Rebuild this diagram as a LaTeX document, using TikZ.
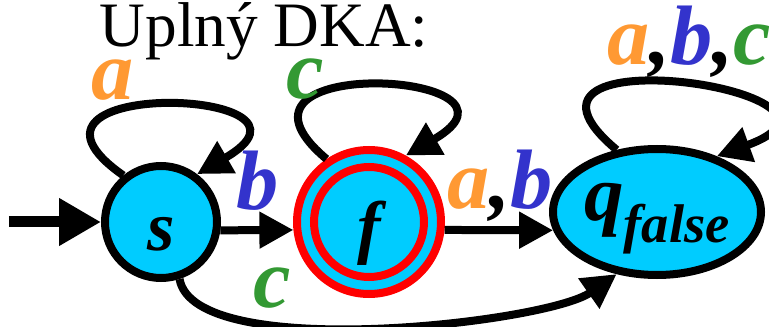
\documentclass[tikz,border=0pt]{standalone}
\usepackage{fontspec}
\setmainfont{Liberation Serif}
\usetikzlibrary{arrows.meta, positioning, shapes.geometric}
\definecolor{statefill}{HTML}{00CCFF}
\definecolor{acceptred}{HTML}{FF0000}
\definecolor{syma}{HTML}{FF9933}
\definecolor{symb}{HTML}{3333CC}
\definecolor{symc}{HTML}{339933}

\begin{document}
\begin{tikzpicture}[
    every node/.style={inner sep=0pt, outer sep=0pt},
    state/.style={circle, draw=black, line width=0.16cm, fill=statefill, minimum size=2.24cm, outer sep=0.08cm,
        font=\fontsize{40}{40}\selectfont\bfseries\itshape, text height=1.12cm, text depth=0pt},
    acceptouter/.style={circle, draw=acceptred, line width=0.16cm, fill=statefill, minimum size=2.88cm, outer sep=0.08cm},
    acceptinner/.style={circle, draw=acceptred, line width=0.16cm, minimum size=2.2cm,
        font=\fontsize{40}{40}\selectfont\bfseries\itshape, text height=1.12cm, text depth=0pt},
    trapstate/.style={ellipse, draw=black, line width=0.16cm, fill=statefill, minimum width=4.16cm, minimum height=2.52cm,
        outer sep=0.08cm, font=\fontsize{45}{45}\selectfont\bfseries\itshape, text height=0.32cm, text depth=0pt},
    trans/.style={line width=0.16cm, -{Triangle[length=0.68cm,width=0.7cm]}},
    symlabel/.style={font=\fontsize{48}{48}\selectfont\bfseries\itshape, anchor=base},
    heading/.style={font=\fontsize{36}{36}\selectfont, anchor=base},
]
\useasboundingbox (0,0) rectangle (15.38,6.52);
\node[heading] (title) at (5.28,5.58) {Uplný DKA:};
% states
\node[state] (s) at (3.22,2.08) {s};
\node[acceptouter] (f) at (7.38,2.08) {};
\node[acceptinner] (fin) at (f) {f};
\node[trapstate] (q) at (13.14,2.28) {q\raisebox{-0.46cm}{\fontsize{31}{31}\selectfont false}};
\coordinate (init) at (0.18,2.08);
% transitions
\draw[line width=0.22cm, -{Triangle[length=0.84cm,width=0.9cm]}] (init) -- (s);
\draw[trans] (s.-8) -- (f.-174);
\draw[trans] (f.-6) -- (q.-170);
\draw[trans] (s.129) to[out=145, in=30, looseness=6] (s.53);
\draw[trans] (f.124) to[out=140, in=30, looseness=5.4] (f.61);
\draw[trans] (q.123) to[out=140, in=20, looseness=4.8] (q.43);
\draw[trans] (s.-72) to[out=-80, in=215, looseness=0.5] (q.-123);
% labels
\node[symlabel, text=syma] (la) at (2.26,4.52) {a};
\node[symlabel, text=symc] (lc) at (6.10,4.54) {c};
\node[symlabel, anchor=base west] (labc) at (12.14,5.22) {\textcolor{syma}{a},\textcolor{symb}{b},\textcolor{symc}{c}};
\node[symlabel, text=symb] (lb) at (5.16,2.32) {b};
\node[symlabel, anchor=base west] (lab) at (8.94,2.36) {\textcolor{syma}{a},\textcolor{symb}{b}};
\node[symlabel, text=symc] (lc2) at (5.44,0.38) {c};
\end{tikzpicture}
\end{document}
